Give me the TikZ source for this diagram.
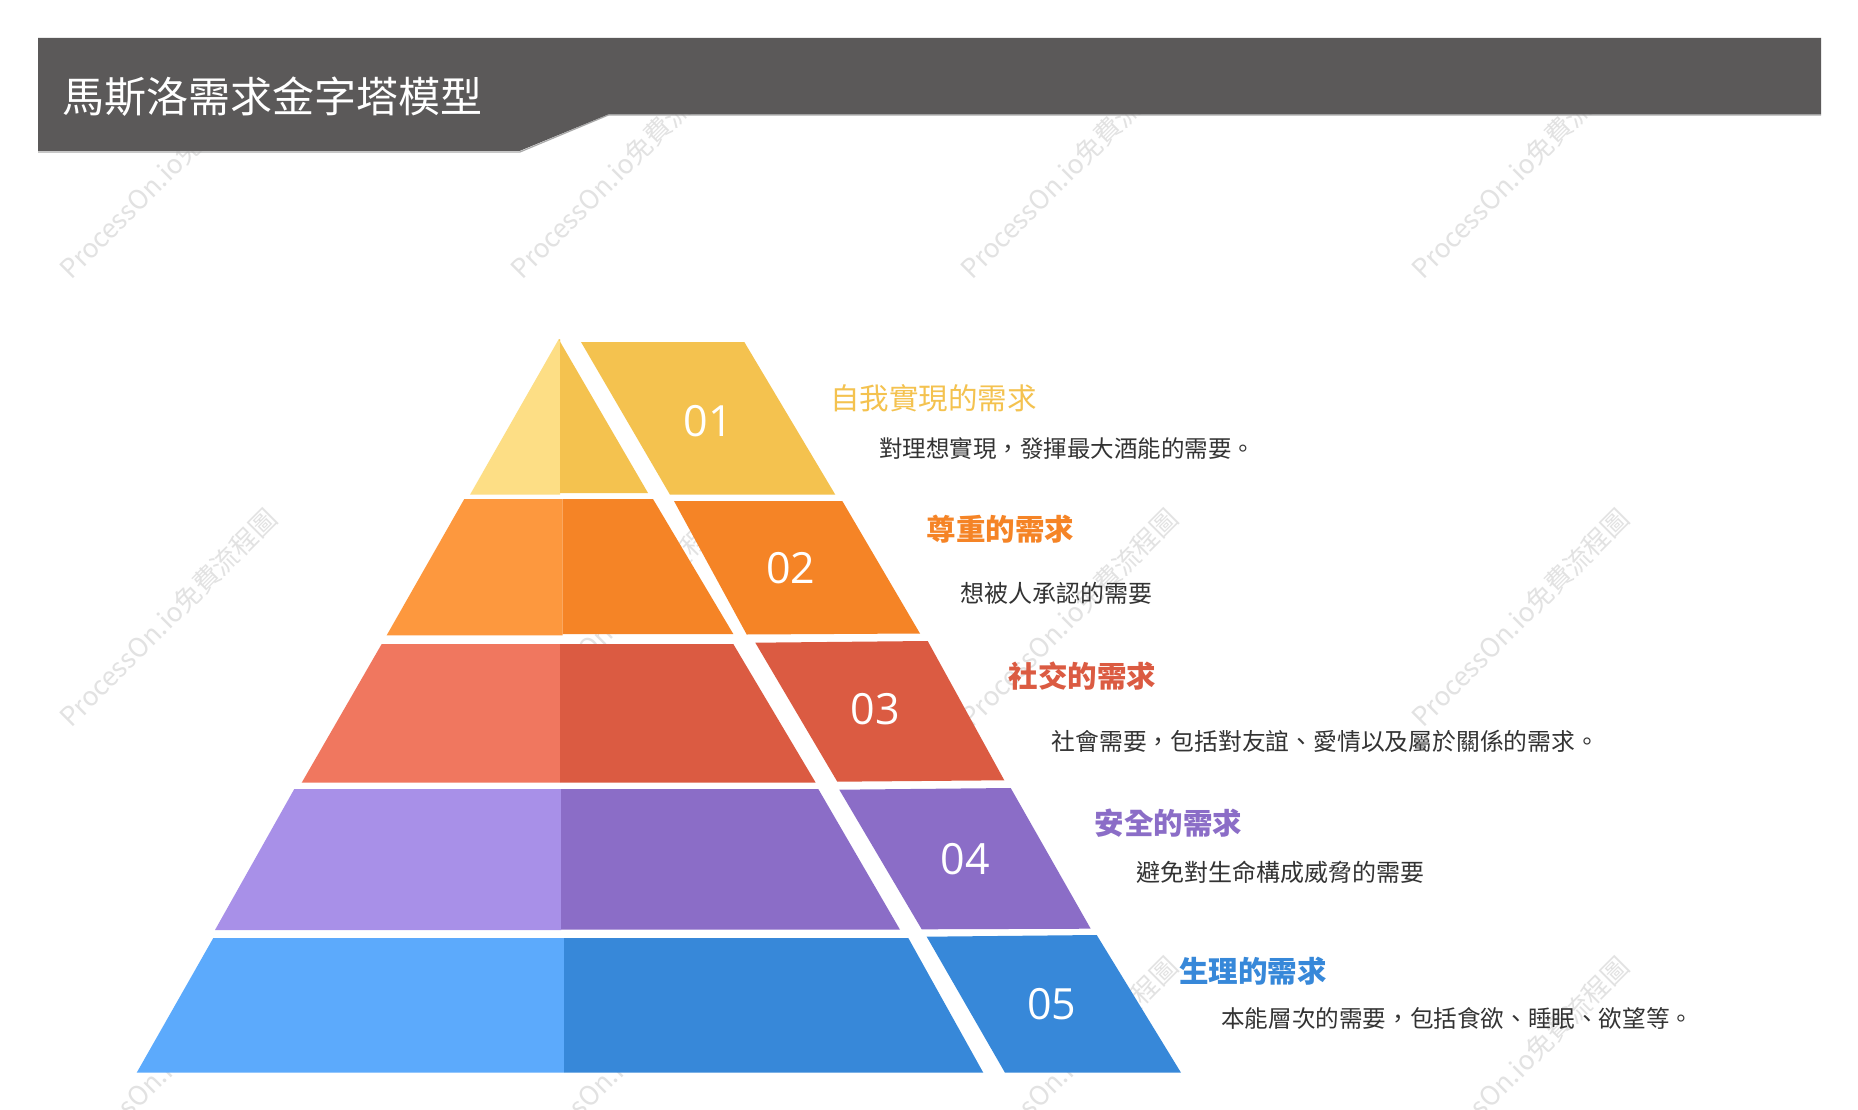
\documentclass[tikz,border=0pt]{standalone}
\usepackage{fontspec}
\newfontfamily\cjk{Noto Sans CJK TC}
\newfontfamily\numfont{Open Sans}
\definecolor{hdr}{HTML}{5B5959}
\definecolor{hdrline}{HTML}{A9A9A9}
\definecolor{yL}{HTML}{FDDE85}\definecolor{yD}{HTML}{F4C24F}
\definecolor{oL}{HTML}{FD983E}\definecolor{oD}{HTML}{F58426}
\definecolor{rL}{HTML}{F0775F}\definecolor{rD}{HTML}{DB5B42}
\definecolor{pL}{HTML}{A890E8}\definecolor{pD}{HTML}{8B6DC7}
\definecolor{bL}{HTML}{5CAAFC}\definecolor{bD}{HTML}{3788D9}
\definecolor{txt}{HTML}{333333}
\definecolor{wm}{HTML}{E2E2E2}
\begin{document}
\begin{tikzpicture}[x=1pt,y=-1pt,
  wmark/.style={rotate=45,anchor=base west,inner sep=0,text=wm,font=\cjk\fontsize{26.5}{30}\selectfont},
  numtext/.style={text=white,inner sep=0,font=\numfont\fontsize{43}{50}\selectfont},
  headtext/.style={anchor=west,inner sep=0,font=\cjk\bfseries\fontsize{29.5}{34}\selectfont},
  desctext/.style={anchor=west,inner sep=0,text=txt,font=\cjk\fontsize{24}{28}\selectfont}]
\useasboundingbox (0,0) rectangle (1858,1110);
\fill[white] (0,0) rectangle (1858,1110);
% watermarks
\foreach \wx in {71,522,972,1423}{
  \foreach \wy in {281,729,1177}{
    \node[wmark] at (\wx,\wy) {ProcessOn.io免費流程圖};
  }
}
% header
\draw[hdrline,line width=1.2pt] (38,152) -- (520,152) -- (608.5,115) -- (1821,115);
\fill[hdr] (38,38) -- (1821,38) -- (1821,114.3) -- (608.5,114.3) -- (519.5,151) -- (38,151) -- cycle;
\node[anchor=west,inner sep=0,text=white,font=\cjk\fontsize{42}{50}\selectfont] (title) at (62,96.5) {馬斯洛需求金字塔模型};
% tier 1
\fill[yL] (558.7,339.3) -- (560,339.3) -- (560,494.7) -- (470,494.7) -- cycle;
\fill[yD] (558.7,339.3) -- (648,493) -- (560,493) -- (560,339.3) -- cycle;
\fill[yD] (581,342) -- (744.3,342) -- (835.3,494.7) -- (670,494.7) -- cycle;
% tier 2
\fill[oL] (464.3,499) -- (562.7,499) -- (562.7,635.3) -- (386.7,635.3) -- cycle;
\fill[oD] (562.7,499) -- (653,499) -- (733.3,634) -- (562.7,634) -- cycle;
\fill[oD] (674,501) -- (842.3,501) -- (920,633.5) -- (746.7,634.5) -- cycle;
% tier 3
\fill[rL] (381.7,644) -- (560,644) -- (560,782.7) -- (301.7,782.7) -- cycle;
\fill[rD] (560,644) -- (733.3,644) -- (815.7,782.7) -- (560,782.7) -- cycle;
\fill[rD] (755.3,642.7) -- (927.7,641) -- (1004.3,780.3) -- (837.3,781.7) -- cycle;
% tier 4
\fill[pL] (294.3,789) -- (561,789) -- (561,930) -- (215,930) -- cycle;
\fill[pD] (561,789) -- (818.3,789) -- (900,929.7) -- (561,929.7) -- cycle;
\fill[pD] (839.3,789.7) -- (1010.7,788) -- (1090.7,928.7) -- (921.7,929.3) -- cycle;
% tier 5
\fill[bL] (213.3,938) -- (564,938) -- (564,1072.7) -- (136.7,1072.7) -- cycle;
\fill[bD] (564,938) -- (908.3,938) -- (983.3,1072.7) -- (564,1072.7) -- cycle;
\fill[bD] (926.7,936.7) -- (1096.7,935) -- (1181,1072.7) -- (1005,1072.7) -- cycle;
% numbers
\node[numtext] (n1) at (708.3,420.7) {01};
\node[numtext] (n2) at (790.7,568.3) {02};
\node[numtext] (n3) at (875.5,709.6) {03};
\node[numtext] (n4) at (965,859.3) {04};
\node[numtext] (n5) at (1051.7,1004) {05};
% labels
\node[headtext,text=yD,font=\cjk\fontsize{29.5}{34}\selectfont] (h1) at (830,398) {自我實現的需求};
\node[desctext,font=\cjk\fontsize{23.5}{28}\selectfont] (d1) at (879,448.5) {對理想實現，發揮最大酒能的需要。};
\node[headtext,text=oD] (h2) at (926.7,529) {尊重的需求};
\node[desctext] (d2) at (960.7,593) {想被人承認的需要};
\node[headtext,text=rD] (h3) at (1008.3,676) {社交的需求};
\node[desctext,font=\cjk\fontsize{23.8}{28}\selectfont] (d3) at (1051.5,741) {社會需要，包括對友誼、愛情以及屬於關係的需求。};
\node[headtext,text=pD] (h4) at (1094.5,823) {安全的需求};
\node[desctext] (d4) at (1136.6,872) {避免對生命構成威脅的需要};
\node[headtext,text=bD] (h5) at (1179,971.5) {生理的需求};
\node[desctext,font=\cjk\fontsize{23.6}{28}\selectfont] (d5) at (1221,1018.5) {本能層次的需要，包括食欲、睡眠、欲望等。};
\end{tikzpicture}
\end{document}
